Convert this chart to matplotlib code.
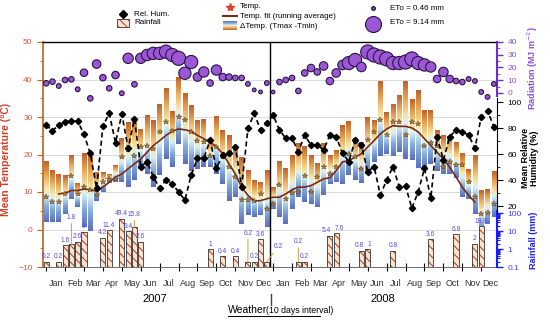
import numpy as np
import matplotlib.pyplot as plt
from matplotlib.colors import LinearSegmentedColormap
from matplotlib.patches import Rectangle
from matplotlib.ticker import FixedLocator, NullFormatter

plt.rcParams['font.family'] = ['Liberation Sans', 'DejaVu Sans']
plt.rcParams['hatch.linewidth'] = 0.7

# ---- data (10-day intervals, 2007-2008) ----
months = ['Jan', 'Feb', 'Mar', 'Apr', 'May', 'Jun', 'Jul', 'Aug', 'Sep', 'Oct', 'Nov', 'Dec']
years = ['2007', '2008']

tmax = [18.1, 15.7, 14.6, 14.4, 19.7, 12.2, 20.2, 20.2, 15.3, 15.0, 14.8, 17.1,
        24.2, 28.6, 29.5, 26.8, 30.4, 29.1, 33.1, 37.5, 31.3, 40.6, 36.2, 33.1,
        29.1, 29.3, 23.7, 30.1, 26.4, 25.1, 22.1, 19.3, 15.7, 13.1, 12.6, 15.7,
        11.3, 18.0, 16.4, 19.7, 22.8, 22.1, 19.7, 17.5, 22.8, 19.7, 21.1, 27.7,
        28.6, 24.4, 23.3, 30.0, 29.1, 39.6, 31.3, 33.5, 35.7, 39.6, 34.6, 37.1,
        31.7, 31.9, 26.4, 25.1, 24.8, 23.3, 20.2, 16.2, 19.7, 10.4, 10.7, 15.5]
tmin = [2.0, 2.0, 2.0, 4.2, 8.2, 6.0, 0.6, -0.3, 7.7, 9.9, 12.4, 12.6,
        12.6, 11.3, 13.1, 16.2, 14.8, 11.3, 14.4, 18.8, 16.6, 22.8, 17.5, 15.7,
        16.2, 16.6, 16.6, 14.8, 12.2, 7.7, 8.6, 1.5, 3.8, 3.3, 3.8, 0.6,
        5.5, 3.3, 1.5, 5.5, 8.6, 7.3, 6.8, 6.0, 9.1, 12.2, 12.6, 12.2,
        14.4, 13.2, 12.4, 14.8, 18.0, 19.7, 20.2, 19.7, 20.6, 18.8, 18.4, 16.4,
        16.2, 17.5, 15.7, 14.8, 14.8, 13.8, 8.6, 8.2, 4.2, -1.2, 1.5, 3.3]
tmean = [8.6, 7.3, 7.3, 9.5, 14.4, 9.5, 11.3, 10.5, 9.1, 12.6, 13.5, 13.5,
         19.3, 21.1, 19.7, 21.9, 22.4, 21.5, 25.9, 28.6, 26.4, 29.9, 29.1, 26.0,
         23.7, 23.3, 19.7, 22.1, 19.3, 16.6, 14.0, 7.9, 7.9, 7.7, 9.5, 5.5,
         6.8, 12.0, 8.2, 9.7, 10.0, 14.4, 10.0, 14.0, 16.6, 14.8, 16.6, 20.2,
         20.2, 19.3, 16.2, 24.0, 26.0, 29.1, 25.1, 28.6, 28.6, 25.3, 28.6, 28.2,
         22.4, 23.0, 22.4, 16.6, 18.0, 17.1, 17.1, 12.6, 8.8, 4.2, 4.4, 6.7]
# running average, from interval 2 to 68
fit_start = 2
tfit = [9.5, 9.7, 10.4, 10.4, 10.8, 10.6, 10.2, 11.3, 12.6, 14.0, 14.8, 16.2,
        17.5, 18.8, 20.6, 22.4, 23.7, 25.1, 26.2, 26.8, 26.6, 26.2, 25.1, 24.2,
        23.3, 22.1, 20.2, 17.5, 14.8, 11.3, 9.1, 7.6, 7.7, 8.2, 8.6, 8.6,
        9.5, 10.6, 11.3, 11.3, 11.7, 12.6, 13.5, 13.8, 15.7, 18.0, 18.4, 19.3,
        20.2, 22.0, 23.7, 25.5, 26.8, 27.7, 27.5, 27.5, 27.1, 26.0, 24.2, 22.4,
        20.6, 18.8, 16.6, 14.0, 11.3, 9.1, 7.3]
humidity = [82.3, 77.9, 82.3, 84.9, 85.4, 85.4, 75.1, 60.5, 33.6, 81.5, 91.3, 68.7,
            90.8, 64.4, 86.9, 50.3, 54.1, 42.6, 33.6, 40.0, 36.9, 31.0, 24.6, 43.8,
            56.7, 56.7, 70.8, 49.0, 59.2, 60.5, 65.6, 34.9, 79.7, 91.3, 78.5, 83.6,
            90.0, 78.5, 72.1, 72.1, 61.8, 74.6, 66.9, 66.9, 63.1, 74.6, 73.3, 60.5,
            54.1, 70.8, 66.9, 46.4, 50.3, 28.5, 40.0, 50.3, 34.9, 35.4, 18.2, 31.0,
            49.0, 25.9, 73.3, 55.4, 73.3, 78.5, 77.2, 74.6, 64.4, 88.7, 93.3, 81.0]
radiation = [7.6, 8.9, 5.5, 10.2, 10.7, 2.9, 15.9, -4.2, 22.7, 12.0, 3.7, 14.1,
             -0.2, 27.2, 6.8, 27.2, 29.8, 31.1, 31.1, 32.4, 29.8, 27.2, 15.5, 24.3,
             12.5, 16.5, 7.8, 18.0, 12.5, 12.5, 11.8, 11.8, 7.1, 2.4, 0.8, 7.8,
             0.8, 8.6, 10.2, 11.8, 1.6, 15.7, 19.6, 16.5, 21.2, 9.4, 15.7, 22.0,
             23.5, 25.9, 20.4, 32.2, 29.8, 28.2, 26.7, 23.5, 23.5, 24.3, 26.7, 23.5,
             22.0, 20.4, 11.0, 16.5, 11.0, 9.4, 8.6, 11.0, 9.4, 0.8, -3.1, 7.1]
eto = [1.1, 1.1, 0.8, 1.1, 1.1, 0.8, 2.0, 1.1, 2.6, 1.5, 1.1, 2.0,
       0.8, 3.8, 1.1, 3.8, 4.6, 5.4, 5.4, 6.2, 6.2, 7.1, 5.4, 6.2,
       2.6, 3.8, 1.5, 3.8, 2.0, 1.5, 1.1, 1.1, 0.8, 0.5, 0.5, 0.8,
       0.46, 1.1, 1.1, 1.1, 1.1, 1.5, 2.0, 1.5, 2.6, 2.0, 2.6, 3.2,
       6.2, 6.2, 3.2, 7.1, 7.1, 7.1, 7.1, 6.2, 6.2, 7.1, 7.1, 6.2,
       5.4, 3.8, 2.0, 3.2, 2.0, 1.1, 1.1, 0.8, 0.8, 0.8, 0.8, 0.8]
rain = [0.2, 0, 0.2, 1.6, 1.8, 2.6, 9, 0, 0, 4.2, 11.4, 0,
        49.4, 9.4, 15.8, 2.6, 0, 0, 0, 0, 0, 0, 0, 0,
        0, 0, 1, 0, 0.4, 0, 0.4, 0, 0.2, 0.2, 3.6, 0.2,
        0, 0, 0, 0, 0.2, 0.2, 0, 0, 0, 5.4, 7.6, 0,
        0, 0, 0.8, 1, 0, 0, 0, 0.8, 0, 0, 0, 0,
        0, 3.6, 0, 0, 0, 6.8, 0, 0, 2, 18.8, 0, 0]
rain_text = {0: '0.2', 2: '0.2', 3: '1.6', 4: '1.8', 5: '2.6', 6: '9', 9: '4.2',
             10: '11.4', 12: '49.4', 13: '9.4', 14: '15.8', 15: '2.6', 26: '1',
             28: '0.4', 30: '0.4', 32: '0.2', 33: '0.2', 34: '3.6', 35: '0.2',
             40: '0.2', 41: '0.2', 45: '5.4', 46: '7.6', 50: '0.8', 51: '1',
             55: '0.8', 61: '3.6', 65: '6.8', 68: '2', 69: '18.8'}
# labels moved away from their bar with a leader line (offset in points)
rain_moved = {4: (0, 16), 14: (0, 6), 32: (0, 17), 35: (8, 7), 40: (0, 11)}
# labels only nudged sideways
rain_nudge = {45: -2.5, 46: 2.5, 50: -1.5, 51: 1.5}
eto_scale = 14.5  # marker area (pt^2) per mm

W, H = 550, 320
fig = plt.figure(figsize=(5.5, 3.2), dpi=100)
rect = [43 / W, 1 - 267 / H, (497 - 43) / W, (267 - 42) / H]
ax = fig.add_axes(rect)

n = len(tmax)
xpos = np.arange(n) + 0.5

bar_cmap = LinearSegmentedColormap.from_list('dT', [
    (0.0, '#5a6fbf'), (0.25, '#86aedc'), (0.45, '#d9f0f2'),
    (0.55, '#f6e7ae'), (0.78, '#e8a655'), (1.0, '#c0622c')])
grad = np.linspace(0, 1, 64).reshape(-1, 1)

# temperature range bars
for x, lo, hi in zip(xpos, tmin, tmax):
    ax.imshow(grad, cmap=bar_cmap, origin='lower', aspect='auto', interpolation='bilinear',
              extent=(x - 0.37, x + 0.37, lo, hi), zorder=2)
ax.plot(xpos[fit_start:fit_start + len(tfit)], tfit, color='#7a2a10', lw=1.2, zorder=4)
ax.plot(xpos, tmean, '*', ls='none', ms=3.8, color='#b07a3a', mec='#5a3a10', mew=0.3, zorder=5)

ax.set_xlim(0, n)
ax.set_ylim(-10, 50)
ax.yaxis.set_major_locator(FixedLocator(range(-10, 51, 10)))
ax.yaxis.set_minor_locator(FixedLocator(range(-5, 50, 10)))
ax.grid(axis='y', color='#d4d4d4', lw=0.6, zorder=0)
ax.set_axisbelow(True)
ax.tick_params(axis='y', which='both', colors='#b5651d', labelcolor='#e0533f', labelsize=6, direction='out')
ax.tick_params(axis='y', which='major', length=4)
ax.tick_params(axis='y', which='minor', length=2)
ax.set_ylabel('Mean Temperature (°C)', color='#d0402a', fontweight='bold', fontsize=7.5)
ax.yaxis.set_label_coords(-0.07, 0.48)
ax.spines['left'].set_color('#b5651d')
ax.spines['left'].set_linewidth(1.2)
ax.spines['right'].set_visible(False)
ax.spines['top'].set_linewidth(1.0)
ax.spines['bottom'].set_color('#555555')
ax.spines['bottom'].set_linewidth(0.6)

tick_pos = np.arange(24) * 3 + 0.5
label_pos = np.arange(24) * 3 + 2.0
ax.set_xticks(tick_pos)
ax.set_xticklabels([])
ax.set_xticks(label_pos, minor=True)
ax.set_xticklabels(months * 2, minor=True, fontsize=6.5, color='#333333')
ax.tick_params(axis='x', which='major', direction='inout', length=6, width=0.8)
ax.tick_params(axis='x', which='minor', length=0, pad=9)
ax.axvline(36, color='black', lw=1.0, zorder=6)

# rainfall (log, bottom right)
axr = ax.twinx()
axr.set_yscale('log')
axr.set_ylim(0.1, 10 ** 11.5)
rx = [x for x, r in zip(xpos, rain) if r > 0]
rv = [r for r in rain if r > 0]
axr.bar(rx, [r - 0.1 for r in rv], bottom=0.1, width=0.8, facecolor='#f6e4cc',
        edgecolor='#b8312f', hatch='\\\\\\\\', lw=0, zorder=2)
axr.bar(rx, [r - 0.1 for r in rv], bottom=0.1, width=0.8, fill=False,
        edgecolor='#333333', lw=0.6, zorder=3)
for i, txt in rain_text.items():
    if i in rain_moved:
        dx, dy = rain_moved[i]
        axr.annotate(txt, (xpos[i], rain[i]), xytext=(dx, dy + 1), textcoords='offset points',
                     ha='center', va='bottom', fontsize=4.8, color='#5a4ae0',
                     arrowprops=dict(arrowstyle='-', color='#c8a040', lw=0.7, shrinkA=0, shrinkB=0))
    else:
        axr.annotate(txt, (xpos[i], rain[i]), xytext=(rain_nudge.get(i, 0), 1),
                     textcoords='offset points', ha='center', va='bottom',
                     fontsize=4.8, color='#5a4ae0')
axr.yaxis.set_major_locator(FixedLocator([0.1, 1, 10, 100]))
axr.yaxis.set_minor_locator(FixedLocator([m * d for d in (0.1, 1, 10) for m in range(2, 10)]))
axr.yaxis.set_minor_formatter(NullFormatter())
axr.set_yticklabels(['0.1', '1', '10', '100'])
axr.tick_params(axis='y', which='both', colors='#1a1aff', labelcolor='#4040ff', labelsize=6)
axr.tick_params(axis='y', which='major', length=4, width=1)
axr.tick_params(axis='y', which='minor', length=2.5, width=0.8)
for s in ('top', 'left', 'bottom'):
    axr.spines[s].set_visible(False)
axr.spines['right'].set_color('#1a1aff')
axr.spines['right'].set_linewidth(1.5)
axr.spines['right'].set_bounds(0.1, 130)

# relative humidity (middle right)
axh = ax.twinx()
axh.set_ylim(-26.9, 146.2)
axh.plot(xpos, humidity, ls=(0, (3, 2)), color='black', lw=1.2, marker='D', ms=3.2, zorder=3)
axh.yaxis.set_major_locator(FixedLocator(range(20, 101, 20)))
axh.yaxis.set_minor_locator(FixedLocator(range(30, 100, 20)))
axh.tick_params(axis='y', which='both', colors='black', labelsize=6)
axh.tick_params(axis='y', which='major', length=4)
axh.tick_params(axis='y', which='minor', length=2)
for s in ('top', 'left', 'bottom'):
    axh.spines[s].set_visible(False)
axh.spines['right'].set_bounds(15, 103)

# radiation + ETo circles (top right)
axs = ax.twinx()
axs.set_ylim(-136.5, 40)
axs.scatter(xpos, radiation, s=[eto_scale * e for e in eto], color='#9b57d6',
            edgecolors='#2a1540', linewidths=0.8, zorder=4)
axs.yaxis.set_major_locator(FixedLocator(range(0, 41, 10)))
axs.yaxis.set_minor_locator(FixedLocator(range(5, 40, 10)))
axs.tick_params(axis='y', which='both', colors='#6a2fd0', labelcolor='#8a50e0', labelsize=6)
axs.tick_params(axis='y', which='major', length=4, width=1)
axs.tick_params(axis='y', which='minor', length=2.5)
for s in ('top', 'left', 'bottom'):
    axs.spines[s].set_visible(False)
axs.spines['right'].set_color('#6a2fd0')
axs.spines['right'].set_linewidth(1.5)
axs.spines['right'].set_bounds(-2, 40)

# overlay for legend and captions, in pixel units
lg = fig.add_axes([0, 0, 1, 1], zorder=10)
lg.set_xlim(0, W)
lg.set_ylim(H, 0)
lg.axis('off')
fs = 5.8
lg.plot(123, 14, 'D', color='black', ms=4)
lg.text(134, 14, 'Rel. Hum.', va='center', fontsize=fs)
lg.add_patch(Rectangle((117, 19), 12, 8, facecolor='#f6e4cc', edgecolor='#b8312f',
                       hatch='\\\\\\\\', lw=0))
lg.add_patch(Rectangle((117, 19), 12, 8, fill=False, edgecolor='#333333', lw=0.6))
lg.text(134, 23, 'Rainfall', va='center', fontsize=fs)
lg.plot(230, 7, '*', color='#e0402a', ms=6)
lg.text(240, 7, 'Temp.', va='center', fontsize=fs)
lg.plot([223, 237], [16, 16], color='#7a2a10', lw=1.5)
lg.text(240, 16, 'Temp. fit (running average)', va='center', fontsize=fs)
lg.imshow(grad, cmap=bar_cmap, origin='upper', aspect='auto', extent=(223, 237, 30, 21))
lg.text(240, 26, 'ΔTemp. (Tmax -Tmin)', va='center', fontsize=fs)
lg.scatter([373], [8], s=eto_scale * 0.46, color='#9b57d6', edgecolors='#2a1540', linewidths=1.0)
lg.text(390, 8, 'ETo = 0.46 mm', va='center', fontsize=fs)
lg.scatter([373], [24], s=eto_scale * 9.14, color='#9b57d6', edgecolors='#2a1540', linewidths=0.8)
lg.text(390, 23, 'ETo = 9.14 mm', va='center', fontsize=fs)

lg.text(155, 299, years[0], ha='center', va='center', fontsize=8)
lg.text(383, 299, years[1], ha='center', va='center', fontsize=8)
lg.plot([271, 271], [294, 305], color='#444444', lw=1)
lg.text(228, 310, 'Weather', ha='left', va='center', fontsize=7.5)
lg.text(266, 310.5, '(10 days interval)', ha='left', va='center', fontsize=6.3)
lg.plot([228, 320], [316, 316], color='black', lw=0.7)

lg.text(533, 68, 'Radiation (MJ m$^{-2}$)', rotation=90, ha='center', va='center',
        fontsize=6.5, fontweight='bold', color='#9050e0')
lg.text(530, 158, 'Mean Relative\nHumidity (%)', rotation=90, ha='center', va='center',
        fontsize=6.5, fontweight='bold', color='black', linespacing=1.0)
lg.text(533, 240, 'Rainfall (mm)', rotation=90, ha='center', va='center',
        fontsize=6.5, fontweight='bold', color='#2020e0')
lg.set_xlim(0, W)
lg.set_ylim(H, 0)

fig.savefig('out.png', dpi=100)
